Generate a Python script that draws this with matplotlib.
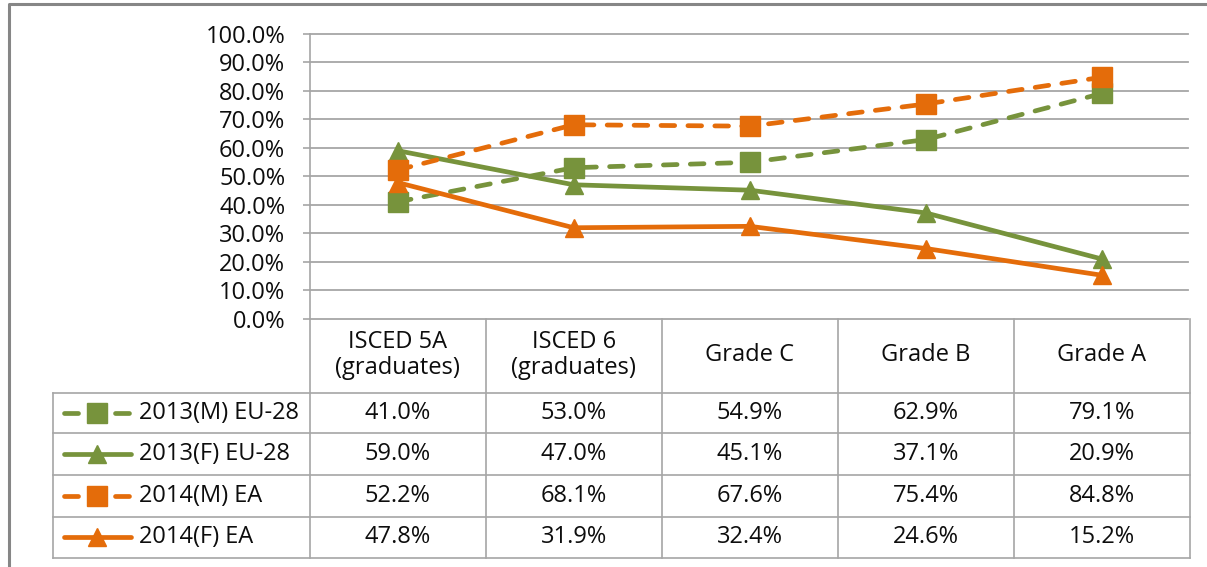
import matplotlib
matplotlib.use("Agg")
import matplotlib.pyplot as plt
from matplotlib.lines import Line2D
import matplotlib.transforms as mtransforms

# ---------------- data ----------------
categories = ["ISCED 5A\n(graduates)", "ISCED 6\n(graduates)", "Grade C", "Grade B", "Grade A"]
series_names = ["2013(M) EU-28", "2013(F) EU-28", "2014(M) EA", "2014(F) EA"]
m2013 = [41.0, 53.0, 54.9, 62.9, 79.1]
f2013 = [59.0, 47.0, 45.1, 37.1, 20.9]
m2014 = [52.2, 68.1, 67.6, 75.4, 84.8]
f2014 = [47.8, 31.9, 32.4, 24.6, 15.2]
yticks = [0, 10, 20, 30, 40, 50, 60, 70, 80, 90, 100]

GREEN = "#77933C"
ORANGE = "#E46C0A"
GRID = "#A6A6A6"
BORDER = "#868686"
TXT = "#0D0D0D"
FONT = "Open Sans"
FS = 17
SQ, TRI = 14, 13

series = [
    (series_names[0], m2013, GREEN, "dash", "s"),
    (series_names[1], f2013, GREEN, "solid", "^"),
    (series_names[2], m2014, ORANGE, "dash", "s"),
    (series_names[3], f2014, ORANGE, "solid", "^"),
]

W, H = 1207, 567
fig = plt.figure(figsize=(W / 100, H / 100), dpi=100)
plt.rcParams["font.family"] = [FONT, "DejaVu Sans"]


def fx(x):
    return x / W


def fy(y):
    return 1 - y / H


# plot area
x0, x1 = 309.5, 1190.0
ytop, ybot = 34.0, 318.5
ax = fig.add_axes([fx(x0), fy(ybot), (x1 - x0) / W, (ybot - ytop) / H])
ax.set_xlim(-0.5, len(categories) - 0.5)
ax.set_ylim(0, 100)
ax.set_yticks(yticks)
ax.set_yticklabels([f"{v:.1f}%" for v in yticks], fontsize=FS, color=TXT, family=FONT)
ax.set_xticks([])
for s in ["top", "right", "bottom"]:
    ax.spines[s].set_visible(False)
ax.spines["left"].set_color(GRID)
ax.spines["left"].set_linewidth(1.2)
ax.tick_params(axis="y", direction="out", length=5, width=1.2, color=GRID, pad=12.5)
for v in yticks:
    ax.axhline(v, xmin=0, xmax=0.998, color=GRID, lw=1.3, zorder=0, clip_on=False)

lw = 3.4
for name, vals, col, style, mk in series:
    kw = dict(color=col, lw=lw, marker=mk, markersize=SQ if mk == "s" else TRI,
              markerfacecolor=col, markeredgecolor=col, clip_on=False,
              solid_capstyle="round", dash_capstyle="round")
    if style == "dash":
        ax.plot(range(len(vals)), vals, dashes=(2.9, 2.8), **kw)
    else:
        ax.plot(range(len(vals)), vals, **kw)

# ---------------- data table ----------------
blend = mtransforms.blended_transform_factory(ax.transData, fig.transFigure)
row_lines = [393.0, 433.3, 475.0, 516.7, 557.7]
tleft = 53.0

# horizontal lines
for y in row_lines:
    fig.add_artist(Line2D([fx(tleft), fx(x1)], [fy(y), fy(y)], color=GRID, lw=1.2))
# left border of table
fig.add_artist(Line2D([fx(tleft), fx(tleft)], [fy(row_lines[0]), fy(row_lines[-1])], color=GRID, lw=1.2))
# column dividers
for k in range(len(categories) + 1):
    xd = k - 0.5
    fig.add_artist(Line2D([xd, xd], [fy(ybot), fy(row_lines[-1])], color=GRID, lw=1.2,
                          transform=blend))

# header
for i, c in enumerate(categories):
    fig.text(i, fy(355), c, transform=blend, ha="center", va="center",
             fontsize=FS, color=TXT, family=FONT, linespacing=1.15)

# rows
for r, (name, vals, col, style, mk) in enumerate(series):
    yc = (row_lines[r] + row_lines[r + 1]) / 2
    fig.text(fx(139), fy(yc), name, ha="left", va="center", fontsize=FS, color=TXT, family=FONT)
    for i, v in enumerate(vals):
        fig.text(i, fy(yc), f"{v:.1f}%", transform=blend, ha="center", va="center",
                 fontsize=FS, color=TXT, family=FONT)
    # legend key
    if style == "dash":
        for a, b in [(64, 78), (115, 129)]:
            fig.add_artist(Line2D([fx(a), fx(b)], [fy(yc), fy(yc)], color=col, lw=lw,
                                  solid_capstyle="round"))
    else:
        fig.add_artist(Line2D([fx(64), fx(131)], [fy(yc), fy(yc)], color=col, lw=lw,
                              solid_capstyle="round"))
    fig.add_artist(Line2D([fx(97)], [fy(yc)], color=col, marker=mk,
                          markersize=SQ if mk == "s" else TRI,
                          markerfacecolor=col, markeredgecolor=col, lw=0))

# outer chart border (left and top)
fig.add_artist(Line2D([fx(8.5), fx(8.5), fx(W)], [0, fy(4), fy(4)], color=BORDER, lw=2.2))

fig.savefig("out.png", dpi=100)
